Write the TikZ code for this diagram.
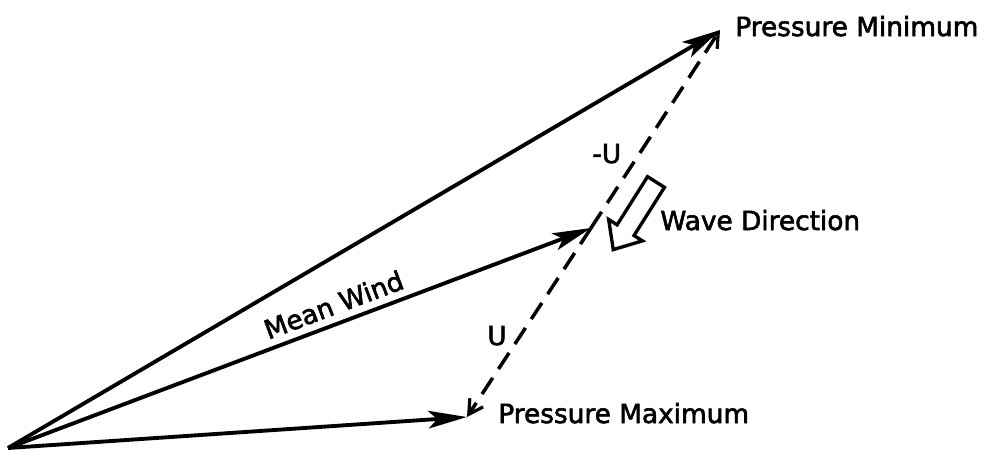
\documentclass[tikz,border=0pt]{standalone}
\usepackage{fontspec}
\newfontfamily\lettering[FakeBold=2.2]{DejaVu Sans}
\usetikzlibrary{arrows.meta}

\begin{document}
\begin{tikzpicture}[
  x=0.02cm, y=-0.02cm,
  font=\lettering\fontsize{15}{18}\selectfont,
  vec/.style={-{Stealth[length=22pt,width=10pt,inset=5pt]}, line width=2.2pt, draw=black},
  dvec/.style={-{Straight Barb[length=8pt,width=9pt,line width=1.8pt]}, line width=2pt, draw=black, dash pattern=on 11pt off 6pt},
  lbl/.style={inner sep=0pt, anchor=base west},
  hollow/.style={draw=black, fill=white, line width=1.9pt, line join=miter},
]
\useasboundingbox (0,0) rectangle (996,450);

% ------------------------------------------------------------------ points
\coordinate (origin) at (8,448);
\coordinate (pmin) at (720,30);
\coordinate (mean) at (591,228);
\coordinate (pmax) at (467,417);

% ------------------------------------------------------------------ vectors
\draw[vec] (origin) -- (pmin);
\draw[vec] (origin) -- node[sloped, above, pos=0.57, inner sep=4pt] (meanlbl) {Mean Wind} (mean);
\draw[vec] (origin) -- (pmax);

\draw[dvec] (mean) -- (pmin);
\draw[dvec] (mean) -- (pmax);

% ------------------------------------------------------------------ labels
\node[lbl] (pminlbl) at (735,36) {Pressure Minimum};
\node[lbl] (pmaxlbl) at (498,423) {Pressure Maximum};
\node[lbl] (wavelbl) at (660,230) {Wave Direction};
\node[lbl] (minuslbl) at (592,163) {-U};
\node[lbl] (ulbl) at (487,345) {U};

% wave direction, hollow block arrow
\begin{scope}[shift={(656,182)}, rotate=-122.3]
  \draw[hollow] (0,-10) -- (57,-10) -- (57,-20) -- (80,0) -- (57,20) -- (57,10) -- (0,10) -- cycle;
\end{scope}
\end{tikzpicture}
\end{document}
